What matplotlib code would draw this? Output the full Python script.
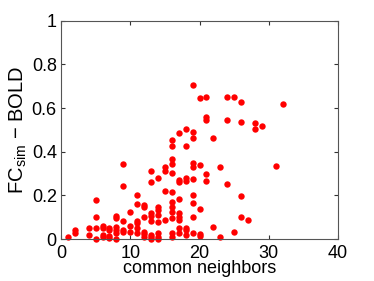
import numpy as np
import matplotlib
matplotlib.use("Agg")
import matplotlib.pyplot as plt

plt.rcParams['font.family'] = ['Liberation Sans', 'DejaVu Sans']
plt.rcParams['mathtext.fontset'] = 'custom'
plt.rcParams['mathtext.rm'] = 'Liberation Sans'
plt.rcParams['mathtext.it'] = 'Liberation Sans'

# common neighbors (x) and FC_sim - BOLD (y)
neighbors = [1, 2, 2, 4, 4, 5, 5, 5, 5,
             6, 6, 6, 6, 7, 7, 7, 7,
             8, 8, 8, 8, 8, 8,
             9, 9, 9, 9, 9,
             10, 10, 10,
             11, 11, 11, 11, 11, 11,
             12, 12, 12, 12, 12, 12,
             13, 13, 13, 13, 13, 13, 13, 13,
             14, 14, 14, 14, 14, 14, 14, 14,
             15, 15, 15, 15,
             16, 16, 16, 16, 16, 16, 16, 16, 16, 16, 16, 16,
             17, 17, 17, 17, 17, 17, 17, 17, 17,
             18, 18, 18, 18, 18, 18, 18,
             19, 19, 19, 19, 19, 19, 19, 19, 19, 19,
             20, 20, 20, 20, 20,
             21, 21, 21, 21, 21,
             22, 22, 23, 23,
             24, 24, 24, 25, 25,
             26, 26, 26, 26, 27, 28, 28, 29, 31, 32]
fc_diff = [0.008, 0.041, 0.029, 0.053, 0.021, 0.179, 0.102, 0.053, 0.0,
           0.060, 0.049, 0.018, 0.008, 0.052, 0.041, 0.015, 0.003,
           0.105, 0.098, 0.056, 0.041, 0.026, 0.0,
           0.342, 0.243, 0.082, 0.044, 0.031,
           0.124, 0.060, 0.031,
           0.200, 0.163, 0.082, 0.072, 0.049, 0.026,
           0.156, 0.145, 0.100, 0.034, 0.023, 0.011,
           0.311, 0.263, 0.121, 0.105, 0.082, 0.018, 0.008, 0.0,
           0.281, 0.148, 0.133, 0.110, 0.079, 0.026, 0.011, 0.0,
           0.331, 0.313, 0.220, 0.087,
           0.453, 0.426, 0.369, 0.343, 0.305, 0.217, 0.168, 0.148, 0.122, 0.099, 0.026, 0.011,
           0.487, 0.270, 0.263, 0.182, 0.118, 0.102, 0.087, 0.052, 0.026,
           0.504, 0.426, 0.278, 0.267, 0.052, 0.041, 0.018,
           0.704, 0.492, 0.461, 0.350, 0.331, 0.275, 0.202, 0.166, 0.102, 0.026,
           0.647, 0.339, 0.136, 0.023, 0.014,
           0.650, 0.560, 0.545, 0.298, 0.267,
           0.461, 0.056, 0.331, 0.008,
           0.650, 0.545, 0.252, 0.652, 0.031,
           0.629, 0.537, 0.197, 0.102, 0.087, 0.533, 0.505, 0.520, 0.336, 0.617]

fig = plt.figure(figsize=(3.74, 2.81), dpi=100)
ax = fig.add_axes([0.163, 0.149, 0.741, 0.777])
ax.plot(neighbors, fc_diff, 'o', color='red', markersize=4.6, markeredgewidth=0, clip_on=False)

ax.set_xlim(0, 40)
ax.set_ylim(0, 1)
ax.set_xticks([0, 10, 20, 30, 40])
ax.set_yticks([0, 0.2, 0.4, 0.6, 0.8, 1])
ax.set_yticklabels(['0', '0.2', '0.4', '0.6', '0.8', '1'])
ax.tick_params(direction='in', top=True, right=True, labelsize=13, length=3, color='#333333')
ax.tick_params(axis='x', pad=4)
ax.tick_params(axis='y', pad=3)
for s in ax.spines.values():
    s.set_color('#555555')
    s.set_linewidth(0.8)

ax.set_xlabel('common neighbors', fontsize=13, labelpad=-1)
ax.set_ylabel(r'FC$_{\mathrm{sim}}$ $-$ BOLD', fontsize=14.5, labelpad=2)

fig.savefig('out.png', dpi=100)
